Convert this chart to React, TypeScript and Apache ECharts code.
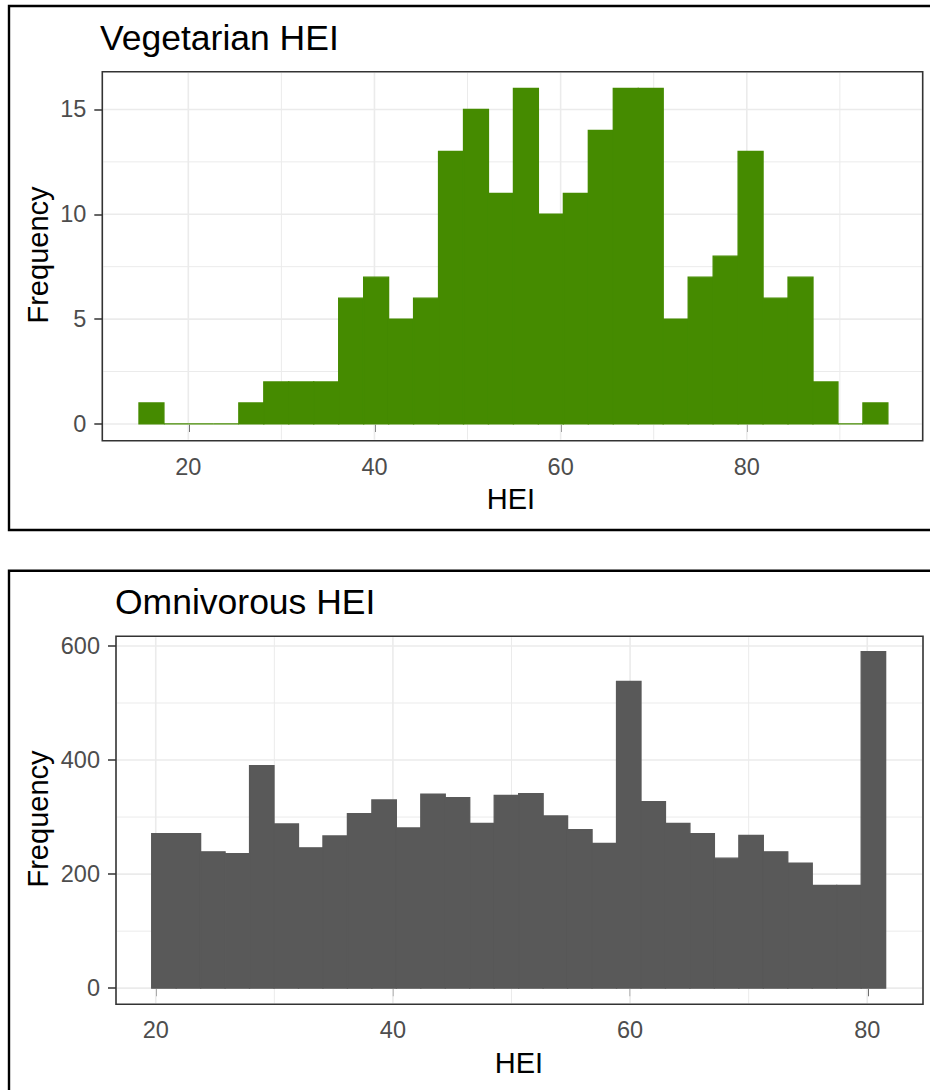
import React, { useEffect, useRef } from "react";
import * as echarts from "echarts";

// ---- Data ----
const vegCounts = [1, 0, 0, 0, 1, 2, 2, 2, 6, 7, 5, 6, 13, 15, 11, 16, 10, 11, 14, 16, 16, 5, 7, 8, 13, 6, 7, 2, 0, 1];
const vegBinStart = 14.7;
const vegBinWidth = 2.682;

const omniCounts = [271, 271, 239, 236, 390, 288, 246, 267, 306, 330, 281, 340, 334, 289, 338, 341, 302, 278, 254, 538, 327, 289, 271, 228, 268, 239, 219, 180, 180, 590];
const omniBinStart = 19.66;
const omniBinWidth = 2.063;

const vegXTicks = [20, 40, 60, 80];
const vegXMinor = [30, 50, 70, 90];
const vegYTicks = [0, 5, 10, 15];
const vegYMinor = [2.5, 7.5, 12.5];

const omniXTicks = [20, 40, 60, 80];
const omniXMinor = [30, 50, 70];
const omniYTicks = [0, 200, 400, 600];
const omniYMinor = [100, 300, 500];

const vegTitle = "Vegetarian HEI";
const omniTitle = "Omnivorous HEI";
const xTitle = "HEI";
const yTitle = "Frequency";

// ---- Style ----
const FONT = "'Liberation Sans', Arial, sans-serif";
const GREEN = "#458B00";
const GREY = "#595959";
const GRID_COLOR = "#EBEBEB";
const TICK_FS = 23.5;
const AXIS_TITLE_FS = 29;
const TITLE_FS = 35.5;

const P1 = { left: 102.3, top: 71.7, width: 820.4, height: 369, xMin: 10.76, xMax: 98.9, yMin: -0.8, yMax: 16.8 };
const P2 = { left: 116, top: 636.3, width: 807, height: 368, xMin: 16.65, xMax: 84.7, yMin: -28.3, yMax: 617 };

function binRows(counts: number[], start: number, w: number) {
  return counts.map((c, i) => [start + i * w, start + (i + 1) * w, c]);
}

function gridRows(xMaj: number[], xMin: number[], yMaj: number[], yMin: number[]) {
  const rows: number[][] = [];
  xMin.forEach((v) => rows.push([v, 0, 1]));
  yMin.forEach((v) => rows.push([v, 1, 1]));
  xMaj.forEach((v) => rows.push([v, 0, 0]));
  yMaj.forEach((v) => rows.push([v, 1, 0]));
  return rows;
}

function makeGridSeries(idx: number, xmin: number, rows: number[][]) {
  return {
    type: "custom",
    xAxisIndex: idx,
    yAxisIndex: idx,
    z: 1,
    silent: true,
    renderItem: (params: any, api: any) => {
      const cs = params.coordSys;
      const v = api.value(0);
      const o = api.value(1);
      const k = api.value(2);
      const lw = k ? 1 : 1.6;
      if (o === 0) {
        const px = api.coord([v, 0])[0];
        return { type: "line", shape: { x1: px, y1: cs.y + 1, x2: px, y2: cs.y + cs.height - 1 }, style: { stroke: GRID_COLOR, lineWidth: lw } };
      }
      const py = api.coord([xmin, v])[1];
      return { type: "line", shape: { x1: cs.x + 1, y1: py, x2: cs.x + cs.width - 1, y2: py }, style: { stroke: GRID_COLOR, lineWidth: lw } };
    },
    encode: { x: 0, y: 0 },
    data: rows,
  };
}

function makeBarSeries(idx: number, color: string, rows: number[][]) {
  return {
    type: "custom",
    xAxisIndex: idx,
    yAxisIndex: idx,
    z: 2,
    silent: true,
    renderItem: (params: any, api: any) => {
      const x0 = api.value(0);
      const x1 = api.value(1);
      const c = api.value(2);
      const p0 = api.coord([x0, c]);
      const p1 = api.coord([x1, 0]);
      return {
        type: "rect",
        shape: { x: p0[0], y: p0[1], width: p1[0] - p0[0], height: p1[1] - p0[1] },
        style: { fill: color, stroke: color, lineWidth: 1.3 },
      };
    },
    encode: { x: [0, 1], y: 2 },
    data: rows,
  };
}

function xAxis(idx: number, P: any, ticks: number[]) {
  return {
    type: "value",
    gridIndex: idx,
    min: P.xMin,
    max: P.xMax,
    axisLine: { show: false },
    splitLine: { show: false },
    axisTick: { show: true, length: 8, lineStyle: { color: "#333333", width: 1.5 }, customValues: ticks },
    axisLabel: { color: "#4D4D4D", fontSize: TICK_FS, fontFamily: FONT, margin: 14, customValues: ticks },
  };
}

function yAxis(idx: number, P: any, ticks: number[]) {
  return {
    type: "value",
    gridIndex: idx,
    min: P.yMin,
    max: P.yMax,
    axisLine: { show: false },
    splitLine: { show: false },
    axisTick: { show: true, length: 8, lineStyle: { color: "#333333", width: 1.5 }, customValues: ticks },
    axisLabel: { color: "#4D4D4D", fontSize: TICK_FS, fontFamily: FONT, margin: 16, customValues: ticks },
  };
}

export default function App() {
  const ref = useRef<HTMLDivElement>(null);
  useEffect(() => {
    if (!ref.current) return;
    const chart = echarts.init(ref.current, null, { renderer: "svg" });
    const option: any = {
      animation: false,
      backgroundColor: "#ffffff",
      grid: [
        { left: P1.left, top: P1.top, width: P1.width, height: P1.height, show: false },
        { left: P2.left, top: P2.top, width: P2.width, height: P2.height, show: false },
      ],
      xAxis: [xAxis(0, P1, vegXTicks), xAxis(1, P2, omniXTicks)],
      yAxis: [yAxis(0, P1, vegYTicks), yAxis(1, P2, omniYTicks)],
      series: [
        makeGridSeries(0, P1.xMin, gridRows(vegXTicks, vegXMinor, vegYTicks, vegYMinor)),
        makeBarSeries(0, GREEN, binRows(vegCounts, vegBinStart, vegBinWidth)),
        makeGridSeries(1, P2.xMin, gridRows(omniXTicks, omniXMinor, omniYTicks, omniYMinor)),
        makeBarSeries(1, GREY, binRows(omniCounts, omniBinStart, omniBinWidth)),
      ],
      graphic: [
        // outer boxes
        { type: "rect", z: 100, silent: true, shape: { x: 9, y: 6, width: 940, height: 524 }, style: { fill: "none", stroke: "#000", lineWidth: 2.4 } },
        { type: "rect", z: 100, silent: true, shape: { x: 9, y: 570.7, width: 940, height: 560 }, style: { fill: "none", stroke: "#000", lineWidth: 2.4 } },
        // panel borders
        { type: "rect", z: 100, silent: true, shape: { x: P1.left, y: P1.top, width: P1.width, height: P1.height }, style: { fill: "none", stroke: "#333333", lineWidth: 1.6 } },
        { type: "rect", z: 100, silent: true, shape: { x: P2.left, y: P2.top, width: P2.width, height: P2.height }, style: { fill: "none", stroke: "#333333", lineWidth: 1.6 } },
        // titles
        { type: "text", z: 100, x: 100, y: 38, style: { text: vegTitle, fontSize: TITLE_FS, fontFamily: FONT, fill: "#000", textAlign: "left", textVerticalAlign: "middle" } },
        { type: "text", z: 100, x: 115, y: 601.5, style: { text: omniTitle, fontSize: TITLE_FS, fontFamily: FONT, fill: "#000", textAlign: "left", textVerticalAlign: "middle" } },
        // axis titles
        { type: "text", z: 100, x: 511, y: 499, style: { text: xTitle, fontSize: AXIS_TITLE_FS, fontFamily: FONT, fill: "#000", textAlign: "center", textVerticalAlign: "middle" } },
        { type: "text", z: 100, x: 519, y: 1063, style: { text: xTitle, fontSize: AXIS_TITLE_FS, fontFamily: FONT, fill: "#000", textAlign: "center", textVerticalAlign: "middle" } },
        { type: "text", z: 100, x: 37.5, y: 255, rotation: Math.PI / 2, style: { text: yTitle, fontSize: AXIS_TITLE_FS, fontFamily: FONT, fill: "#000", textAlign: "center", textVerticalAlign: "middle" } },
        { type: "text", z: 100, x: 37.5, y: 819, rotation: Math.PI / 2, style: { text: yTitle, fontSize: AXIS_TITLE_FS, fontFamily: FONT, fill: "#000", textAlign: "center", textVerticalAlign: "middle" } },
      ],
    };
    chart.setOption(option);
    return () => chart.dispose();
  }, []);
  return <div ref={ref} style={{ position: "fixed", left: 0, top: 0, width: 930, height: 1090 }} />;
}
